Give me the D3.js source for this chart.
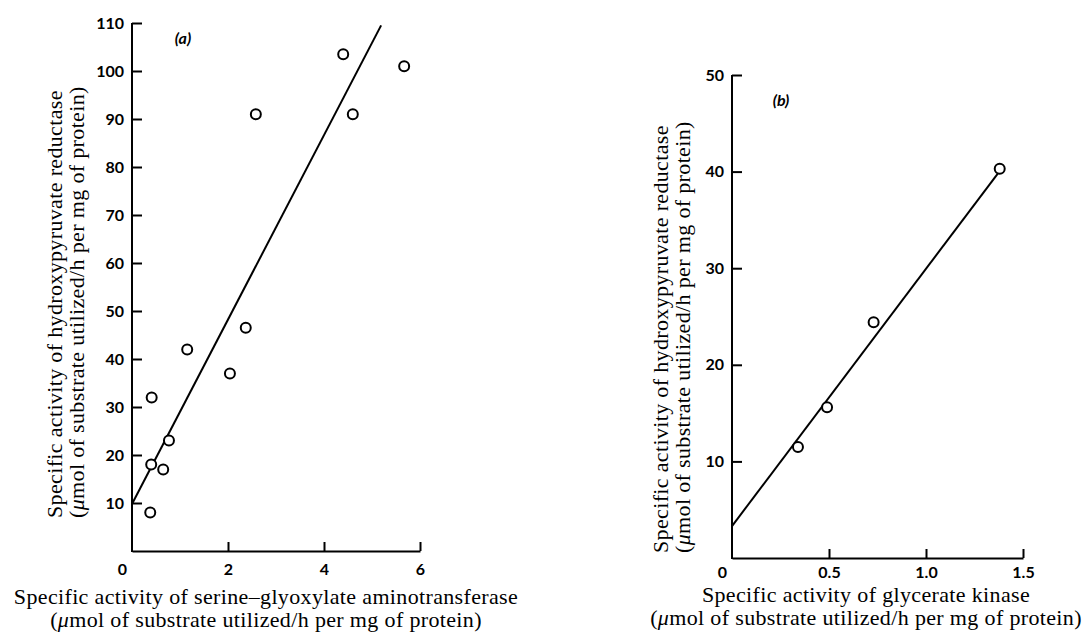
<!DOCTYPE html>
<html>
<head>
<meta charset="utf-8">
<script src="https://cdn.jsdelivr.net/npm/d3@7"></script>
<style>
  body { margin: 0; background: #fff; }
  .tick text { font-family: Lato, "Open Sans", sans-serif; font-weight: 700; font-size: 16px; fill: #000; }
  .tick line, .domain { stroke: #000; stroke-width: 2px; }
  .title { font-family: "Liberation Serif", "DejaVu Serif", serif; font-size: 22px; letter-spacing: 0.35px; fill: #000; }
  .tag { font-family: Lato, sans-serif; font-style: italic; font-weight: 700; font-size: 16px; }
</style>
</head>
<body>
<svg id="chart" width="1092" height="635"></svg>
<script>
// panel (a): serine-glyoxylate aminotransferase vs hydroxypyruvate reductase
var serineX = [2.58, 4.4, 5.67, 4.6, 2.37, 1.15, 2.04, 0.41, 0.77, 0.40, 0.65, 0.38];
var reductaseA = [91, 103.5, 101, 91, 46.5, 42, 37, 32, 23, 18, 17, 8];
var fitA = [[0, 9.8], [5.19, 109.5]];
var xTicksA = [0, 2, 4, 6];
var yTicksA = [10, 20, 30, 40, 50, 60, 70, 80, 90, 100, 110];

// panel (b): glycerate kinase vs hydroxypyruvate reductase
var kinaseX = [0.73, 1.38, 0.49, 0.34];
var reductaseB = [24.4, 40.3, 15.6, 11.5];
var fitB = [[0, 3.3], [1.37, 39.8]];
var xTicksB = [0, 0.5, 1.0, 1.5];
var yTicksB = [10, 20, 30, 40, 50];

var yTitle = 'Specific activity of hydroxypyruvate reductase',
    unitTitle = '(<tspan font-style="italic">μ</tspan>mol of substrate utilized/h per mg of protein)';

var svg = d3.select('#chart');

function panel(opt) {
    var x = d3.scaleLinear().domain(opt.xDomain).range(opt.xRange),
        y = d3.scaleLinear().domain(opt.yDomain).range(opt.yRange);
    var g = svg.append('g');

    var xAxis = d3.axisBottom(x)
        .tickValues(opt.xTicks)
        .tickSizeInner(-9)
        .tickSizeOuter(0)
        .tickPadding(opt.xPad)
        .tickFormat(opt.xFormat);
    var gx = g.append('g')
        .attr('transform', 'translate(0,' + y(0) + ')')
        .call(xAxis);
    gx.selectAll('.tick text').filter(function(d) { return d === 0; }).attr('dx', -10);
    gx.selectAll('.tick line').filter(function(d) { return d === 0; }).remove();

    var yAxis = d3.axisLeft(y)
        .tickValues(opt.yTicks)
        .tickSizeInner(-10)
        .tickSizeOuter(0)
        .tickPadding(8);
    var gy = g.append('g')
        .attr('transform', 'translate(' + x(0) + ',0)')
        .call(yAxis);
    gy.select('.domain').attr('d', 'M0,' + (y(0) + 1) + 'V' + y(opt.yDomain[1]));

    var line = d3.line().x(function(d) { return x(d[0]); }).y(function(d) { return y(d[1]); });
    g.append('path')
        .attr('d', line(opt.fit))
        .attr('fill', 'none')
        .attr('stroke', '#000')
        .attr('stroke-width', 2);

    g.selectAll('circle')
        .data(opt.xs)
        .enter().append('circle')
        .attr('cx', function(d) { return x(d); })
        .attr('cy', function(d, i) { return y(opt.ys[i]); })
        .attr('r', 5)
        .attr('fill', '#fff')
        .attr('stroke', '#000')
        .attr('stroke-width', 2);

    g.append('text')
        .attr('class', 'tag')
        .attr('x', opt.tag[0])
        .attr('y', opt.tag[1])
        .attr('text-anchor', 'middle')
        .attr('dy', '.35em')
        .text(opt.tagText);

    // y title: two lines rotated, both starting at the same bottom point
    var yt = g.append('text')
        .attr('class', 'title')
        .attr('text-anchor', 'start')
        .attr('transform', 'translate(' + opt.yTitle[0] + ',' + opt.yTitle[1] + ') rotate(-90)');
    yt.append('tspan').attr('x', 0).attr('y', 0).text(yTitle);
    yt.append('tspan').attr('x', 0).attr('y', 22).html(unitTitle);

    var xt = g.append('text')
        .attr('class', 'title')
        .attr('text-anchor', 'middle');
    xt.append('tspan').attr('x', opt.xTitle[0]).attr('y', opt.xTitle[1]).text(opt.xTitleText);
    xt.append('tspan').attr('x', opt.xTitle[0]).attr('y', opt.xTitle[1] + 23).html(unitTitle);
}

panel({
    xDomain: [0, 6], xRange: [132, 420],
    yDomain: [0, 110], yRange: [551, 23],
    xTicks: xTicksA, yTicks: yTicksA, xPad: 13,
    xFormat: d3.format('d'),
    xs: serineX, ys: reductaseA, fit: fitA,
    tag: [183, 38], tagText: '(a)',
    yTitle: [62, 518],
    xTitle: [266, 604],
    xTitleText: 'Specific activity of serine–glyoxylate aminotransferase'
});

panel({
    xDomain: [0, 1.5], xRange: [732, 1023],
    yDomain: [0, 50], yRange: [558, 75],
    xTicks: xTicksB, yTicks: yTicksB, xPad: 9,
    xFormat: function(d) { return d === 0 ? '0' : d3.format('.1f')(d); },
    xs: kinaseX, ys: reductaseB, fit: fitB,
    tag: [781, 100], tagText: '(b)',
    yTitle: [668, 553],
    xTitle: [866, 602],
    xTitleText: 'Specific activity of glycerate kinase'
});
</script>
</body>
</html>
